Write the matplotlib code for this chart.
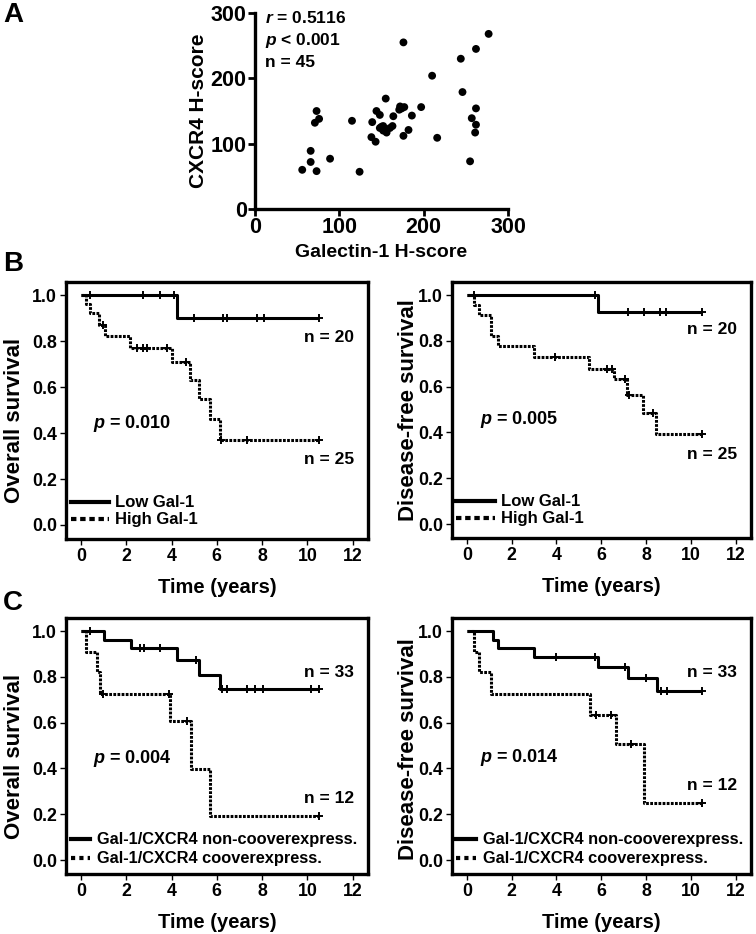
import matplotlib
matplotlib.use("Agg")
import matplotlib.pyplot as plt
import numpy as np
from matplotlib.lines import Line2D

plt.rcParams["font.family"] = ["Liberation Sans", "DejaVu Sans"]
plt.rcParams["font.weight"] = "bold"
plt.rcParams["axes.labelweight"] = "bold"
plt.rcParams["mathtext.fontset"] = "custom"
plt.rcParams["mathtext.it"] = "Liberation Sans:bold:italic"
plt.rcParams["mathtext.rm"] = "Liberation Sans:bold"
plt.rcParams["mathtext.bf"] = "Liberation Sans:bold"

# ---- panel A: Galectin-1 vs CXCR4 H-scores ----
gal1_hscore = [56, 66, 66, 73, 73, 71, 76, 89, 115, 124, 139, 138, 143, 144, 148,
               148, 152, 155, 155, 163, 164, 172, 174, 177, 176, 176, 182, 186, 197,
               210, 216, 244, 246, 255, 257, 262, 262, 262, 261, 277, 152, 156, 160,
               171, 150]
cxcr4_hscore = [60, 89, 72, 58, 150, 132, 138, 77, 135, 57, 133, 110, 103, 150, 144,
                124, 127, 121, 169, 127, 142, 157, 154, 156, 255, 112, 121, 143, 156,
                204, 109, 230, 179, 73, 139, 245, 154, 129, 117, 268, 120, 117, 124,
                152, 126]
stats_a = ["$r$ = 0.5116", "$p$ < 0.001", "n = 45"]

# ---- panel B: Gal-1 low / high ----
b_os_low_t = [0, 4.25, 10.5]
b_os_low_s = [1.0, 0.90, 0.90]
b_os_low_cens = [0.38, 2.74, 3.51, 4.1, 4.98, 6.28, 6.46, 7.79, 8.08, 10.5]
b_os_high_t = [0, 0.23, 0.38, 0.78, 1.05, 2.18, 4.0, 4.8, 5.2, 5.72, 6.16, 10.5]
b_os_high_s = [1.0, 0.96, 0.92, 0.87, 0.82, 0.77, 0.71, 0.63, 0.55, 0.46, 0.37, 0.37]
b_os_high_cens = [0.98, 2.48, 2.74, 2.92, 3.8, 4.62, 6.19, 7.34, 10.5]

b_dfs_low_t = [0, 5.87, 10.5]
b_dfs_low_s = [1.0, 0.924, 0.924]
b_dfs_low_cens = [0.33, 5.72, 7.2, 7.92, 8.62, 8.88, 10.5]
b_dfs_high_t = [0, 0.33, 0.55, 1.07, 1.37, 3.0, 5.46, 6.58, 7.16, 7.87, 8.44, 10.5]
b_dfs_high_s = [1.0, 0.957, 0.914, 0.82, 0.777, 0.73, 0.679, 0.633, 0.565, 0.486, 0.393, 0.393]
b_dfs_high_cens = [3.93, 6.24, 6.49, 7.06, 7.25, 8.3, 10.5]

# ---- panel C: Gal-1/CXCR4 co-overexpression ----
c_os_non_t = [0, 1.03, 2.21, 4.25, 5.2, 6.16, 10.5]
c_os_non_s = [1.0, 0.96, 0.924, 0.872, 0.81, 0.745, 0.745]
c_os_non_cens = [0.4, 2.62, 2.8, 3.48, 5.06, 6.24, 6.46, 7.34, 7.71, 8.05, 10.14, 10.5]
c_os_co_t = [0, 0.24, 0.7, 0.82, 3.95, 4.84, 5.72, 10.5]
c_os_co_s = [1.0, 0.91, 0.82, 0.726, 0.606, 0.397, 0.194, 0.194]
c_os_co_cens = [0.97, 3.88, 4.69, 10.5]

c_dfs_non_t = [0, 1.16, 1.41, 3.0, 5.87, 7.2, 8.5, 10.5]
c_dfs_non_s = [1.0, 0.96, 0.927, 0.886, 0.844, 0.796, 0.737, 0.737]
c_dfs_non_cens = [3.98, 5.72, 7.06, 8.0, 8.66, 8.94, 10.5]
c_dfs_co_t = [0, 0.33, 0.56, 1.07, 5.5, 6.65, 7.92, 10.5]
c_dfs_co_s = [1.0, 0.91, 0.82, 0.726, 0.632, 0.508, 0.248, 0.248]
c_dfs_co_cens = [5.76, 6.43, 7.31, 10.5]

time_ticks = [0, 2, 4, 6, 8, 10, 12]
surv_ticks = [0.0, 0.2, 0.4, 0.6, 0.8, 1.0]

DOT = (0, (0.9, 0.45))
LW = 2.2


def surv_at(t, times, surv):
    idx = np.searchsorted(times, t, side="right") - 1
    return np.asarray(surv)[idx]


def km_curve(ax, times, surv, cens, ls):
    ax.step(times, surv, where="post", color="black", lw=LW, linestyle=ls,
            solid_capstyle="butt")
    ax.plot(cens, surv_at(cens, times, surv), linestyle="none", marker="+",
            ms=6, mew=1.4, color="black")


def km_axes(rect, ylabel, label_xy):
    ax = fig.add_axes(rect)
    ax.set_xlim(-0.66, 12.68)
    ax.set_ylim(-0.061, 1.057)
    ax.set_xticks(time_ticks)
    ax.set_yticks(surv_ticks)
    ax.set_yticklabels([f"{v:.1f}" for v in surv_ticks])
    for sp in ax.spines.values():
        sp.set_linewidth(2.4)
    ax.tick_params(direction="out", length=4, width=1, labelsize=12.8, pad=2.5)
    ax.set_xlabel("Time (years)", fontsize=14.5, labelpad=9)
    ax.set_ylabel(ylabel, fontsize=16)
    # label coords give the right edge of the rotated label
    ax.yaxis.set_label_coords(*label_xy)
    return ax


def km_panel(rect, ylabel, label_xy, solid, dotted, labels, n_solid, n_dot, pval,
             legend_style):
    ax = km_axes(rect, ylabel, label_xy)
    km_curve(ax, *solid, "-")
    km_curve(ax, *dotted, DOT)
    ax.text(12.05, n_solid[1], f"n = {n_solid[0]}", ha="right", va="center", fontsize=12.5)
    ax.text(12.05, n_dot[1], f"n = {n_dot[0]}", ha="right", va="center", fontsize=12.5)
    ax.text(pval[1], pval[2], f"$p$ = {pval[0]}", ha="left", va="center", fontsize=13)
    if legend_style == "B":
        hs = [Line2D([], [], color="black", lw=3),
              Line2D([], [], color="black", lw=3, linestyle=(0, (1.3, 0.9)))]
        ax.legend(hs, labels, loc="lower left", frameon=False, fontsize=12,
                  handlelength=2.3, handletextpad=0.35, labelspacing=0.12,
                  borderaxespad=0.0, borderpad=0.0, bbox_to_anchor=(0.015, 0.045))
    else:
        hs = [Line2D([], [], color="black", lw=3),
              Line2D([], [], color="black", lw=3, linestyle=(0, (1.0, 1.0)))]
        ax.legend(hs, labels, loc="lower left", frameon=False, fontsize=11.8,
                  handlelength=1.2, handletextpad=0.4, labelspacing=0.25,
                  borderaxespad=0.0, borderpad=0.0, bbox_to_anchor=(0.015, 0.03))
    return ax


fig = plt.figure(figsize=(7.56, 9.34), dpi=100)

# panel A scatter
axa = fig.add_axes([0.3373, 0.7762, 0.3347, 0.2099])
axa.scatter(gal1_hscore, cxcr4_hscore, s=32, color="black", edgecolors="none", zorder=3,
            clip_on=False)
axa.set_xlim(0, 300)
axa.set_ylim(0, 300)
axa.set_xticks([0, 100, 200, 300])
axa.set_yticks([0, 100, 200, 300])
for side in ["top", "right"]:
    axa.spines[side].set_visible(False)
for side in ["left", "bottom"]:
    axa.spines[side].set_linewidth(2.4)
axa.tick_params(direction="out", length=5, width=2, labelsize=15.5, pad=1)
axa.set_xlabel("Galectin-1 H-score", fontsize=14, labelpad=4)
axa.set_ylabel("CXCR4 H-score", fontsize=15, labelpad=2)
for i, s in enumerate(stats_a):
    axa.text(12, 292 - i * 34, s, ha="left", va="center", fontsize=12.5)

labels_b = ["Low Gal-1", "High Gal-1"]
labels_c = ["Gal-1/CXCR4 non-cooverexpress.", "Gal-1/CXCR4 cooverexpress."]

km_panel([0.0873, 0.4229, 0.3995, 0.2752], "Overall survival", (-0.137, 0.46),
         (b_os_low_t, b_os_low_s, b_os_low_cens),
         (b_os_high_t, b_os_high_s, b_os_high_cens),
         labels_b, (20, 0.817), (25, 0.283), ("0.010", 0.54, 0.443), "B")
km_panel([0.5979, 0.4240, 0.3955, 0.2741], "Disease-free survival", (-0.112, 0.5),
         (b_dfs_low_t, b_dfs_low_s, b_dfs_low_cens),
         (b_dfs_high_t, b_dfs_high_s, b_dfs_high_cens),
         labels_b, (20, 0.848), (25, 0.304), ("0.005", 0.59, 0.456), "B")
km_panel([0.0873, 0.0642, 0.3995, 0.2741], "Overall survival", (-0.137, 0.46),
         (c_os_non_t, c_os_non_s, c_os_non_cens),
         (c_os_co_t, c_os_co_s, c_os_co_cens),
         labels_c, (33, 0.819), (12, 0.27), ("0.004", 0.54, 0.443), "C")
km_panel([0.5979, 0.0642, 0.3955, 0.2741], "Disease-free survival", (-0.112, 0.49),
         (c_dfs_non_t, c_dfs_non_s, c_dfs_non_cens),
         (c_dfs_co_t, c_dfs_co_s, c_dfs_co_cens),
         labels_c, (33, 0.819), (12, 0.326), ("0.014", 0.59, 0.45), "C")

for letter, y in [("A", 15), ("B", 264), ("C", 603)]:
    fig.text(3 / 756, 1 - y / 934, letter, fontsize=20, fontweight="bold",
             ha="left", va="center")

fig.savefig("out.png", dpi=100)
